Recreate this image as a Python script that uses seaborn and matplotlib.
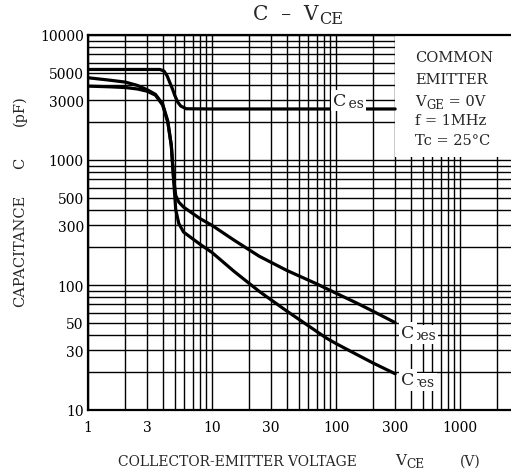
import numpy as np
import pandas as pd
import matplotlib
matplotlib.use('Agg')
import matplotlib.pyplot as plt
from matplotlib.patches import Rectangle
from matplotlib.ticker import FixedLocator, LogLocator, NullFormatter
import seaborn as sns

# Capacitance (pF), vs collector-emitter voltage (V)
cies_vce = [1, 2, 3, 3.8, 4.1, 4.35, 4.6, 4.8, 5.0, 5.3, 5.6, 6.2, 10, 30, 100, 300]
cies_cap = [5300, 5300, 5300, 5300, 5150, 4700, 4100, 3700, 3300, 2900, 2700, 2570, 2560, 2560, 2560, 2560]

coes_vce = [1, 1.5, 2, 2.5, 3, 3.5, 4, 4.4, 4.7, 4.9, 5.1, 5.4, 5.9, 8, 10, 15, 24, 40, 70, 100, 150, 200, 300]
coes_cap = [4550, 4350, 4200, 3950, 3650, 3350, 2800, 2050, 1300, 720, 520, 460, 420, 340, 300, 229, 170, 131, 102, 86, 71, 61.5, 50]

cres_vce = [1, 1.5, 2, 2.5, 3, 3.5, 4, 4.4, 4.7, 4.9, 5.1, 5.4, 5.9, 8, 10, 15, 24, 40, 84, 100, 150, 200, 300]
cres_cap = [3900, 3850, 3800, 3700, 3550, 3300, 2750, 2000, 1300, 700, 400, 310, 265, 212, 182, 129, 89, 62, 37.5, 34, 27.5, 23.7, 19.5]

x_ticks = [1, 3, 10, 30, 100, 300, 1000]
y_ticks = [10, 30, 50, 100, 300, 500, 1000, 3000, 5000, 10000]

conditions = ['COMMON', 'EMITTER', ('V', 'GE', ' = 0V'), 'f = 1MHz', 'Tc = 25°C']


def build_frame():
    # long format table so seaborn can draw the three curves in one call
    parts = []
    for name, vce, cap in [('Cies', cies_vce, cies_cap),
                           ('Coes', coes_vce, coes_cap),
                           ('Cres', cres_vce, cres_cap)]:
        parts.append(pd.DataFrame({'vce': vce, 'cap': cap, 'series': name}))
    return pd.concat(parts, ignore_index=True)


def text_with_sub(ax, x, y, base, sub, tail='', size=10, transform=None,
                  bbox=None, gap=0.5):
    # datasheet style subscript: ~80% size, dropped under the baseline
    t = ax.text(x, y, base, fontsize=size, transform=transform, ha='left',
                va='center', bbox=bbox, zorder=4.5)
    # the extent of a boxed text includes its pad, so take that back off
    pad = bbox.get('pad', 0) if bbox else 0
    s = ax.annotate(sub, xy=(1, 0), xycoords=t, xytext=(gap - pad, pad),
                    textcoords='offset points', fontsize=size * 0.8,
                    va='baseline', ha='left', bbox=bbox, zorder=4)
    if tail:
        ax.annotate(tail, xy=(1, 0), xycoords=(s, t), fontsize=size,
                    va='bottom', ha='left', zorder=4)
    return t


def main():
    sns.set_style('white')
    plt.rcParams['font.family'] = ['DejaVu Serif']
    plt.rcParams['mathtext.fontset'] = 'dejavuserif'

    W, H = 511, 477
    fig = plt.figure(figsize=(W / 100, H / 100), dpi=100)
    ax = fig.add_axes([88 / W, 1 - 411 / H, 1 - 88 / W, (411 - 36) / H])
    ax.set_xscale('log')
    ax.set_yscale('log')
    xmax = 10 ** ((W - 88) / 124)
    ax.set_xlim(1, xmax)
    ax.set_ylim(10, 10000)
    ax.set_axisbelow(True)

    df = build_frame()
    sns.lineplot(data=df, x='vce', y='cap', hue='series', palette=['black'] * 3,
                 estimator=None, linewidth=2.3, legend=False, ax=ax, zorder=3)

    # grid on every 1..9 of each decade
    ax.xaxis.set_major_locator(FixedLocator(x_ticks))
    ax.yaxis.set_major_locator(FixedLocator(y_ticks))
    ax.set_xticklabels([str(t) for t in x_ticks])
    ax.set_yticklabels([str(t) for t in y_ticks])
    ax.xaxis.set_minor_locator(LogLocator(base=10, subs=np.arange(1, 10), numticks=50))
    ax.yaxis.set_minor_locator(LogLocator(base=10, subs=np.arange(1, 10), numticks=50))
    ax.xaxis.set_minor_formatter(NullFormatter())
    ax.yaxis.set_minor_formatter(NullFormatter())
    ax.grid(True, which='both', color='black', linewidth=1.0)
    ax.tick_params(which='both', length=0, labelsize=10, colors='black')
    ax.tick_params(axis='x', pad=7)
    ax.tick_params(axis='y', pad=3)
    for side in ['left', 'top', 'bottom']:
        ax.spines[side].set_color('black')
        ax.spines[side].set_linewidth(1.6)
    ax.spines['right'].set_visible(False)
    ax.set_xlabel('')
    ax.set_ylabel('')

    fig_tr = fig.transFigure

    # white panel with test conditions
    ax.add_patch(Rectangle((300, 1060), xmax - 300, 10000 - 1060,
                           facecolor='white', edgecolor='none', zorder=1.5))
    rows_y = [58, 80, 102, 121, 141]
    for line, py in zip(conditions, rows_y):
        if isinstance(line, tuple):
            text_with_sub(ax, 415 / W, 1 - py / H, line[0], line[1], line[2],
                          size=10.5, transform=fig_tr)
        else:
            fig.text(415 / W, 1 - py / H, line, fontsize=10.5, va='center', ha='left')

    # curve names
    box = dict(facecolor='white', edgecolor='none', pad=1.5)
    for (lx, ly, sub) in [(95, 3000, 'ies'), (335, 42, 'oes'), (335, 17.5, 'res')]:
        text_with_sub(ax, lx, ly, 'C', sub, size=12.5, transform=ax.transData,
                      bbox=box, gap=0)

    # title and axis titles, placed in pixels like the scan
    text_with_sub(ax, 253 / W, 1 - 15 / H, 'C  –  V', 'CE', size=14.5, transform=fig_tr)
    fig.text(237 / W, 1 - 462 / H, 'COLLECTOR-EMITTER VOLTAGE', fontsize=10,
             ha='center', va='center')
    text_with_sub(ax, 395 / W, 1 - 461 / H, 'V', 'CE', size=11, transform=fig_tr)
    fig.text(460 / W, 1 - 462 / H, '(V)', fontsize=10, ha='left', va='center')
    fig.text(20 / W, 1 - 251 / H, 'CAPACITANCE', fontsize=10.5,
             rotation=90, ha='center', va='center')
    fig.text(20 / W, 1 - 163 / H, 'C', fontsize=10.5,
             rotation=90, ha='center', va='center')
    fig.text(20 / W, 1 - 111 / H, '(pF)', fontsize=10.5,
             rotation=90, ha='center', va='center')

    fig.savefig('out.png', dpi=100)


if __name__ == "__main__":
    main()
